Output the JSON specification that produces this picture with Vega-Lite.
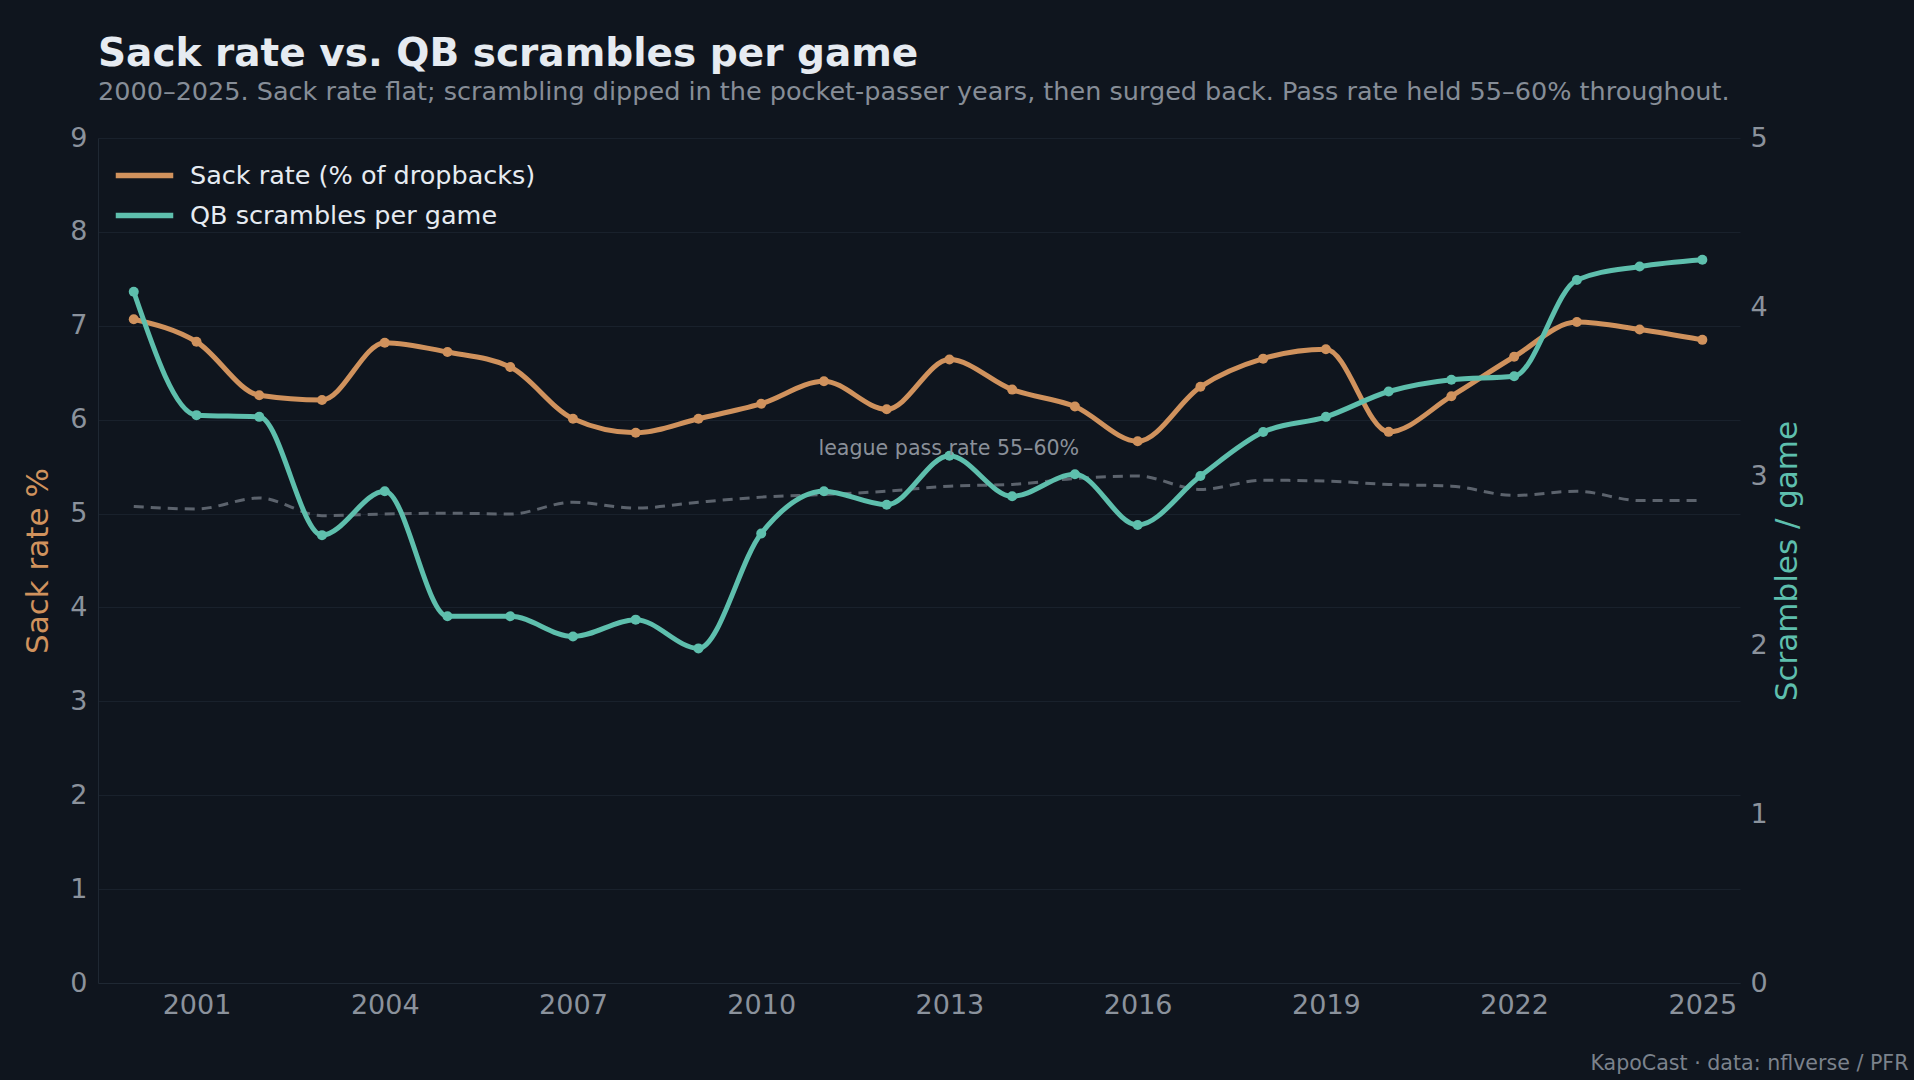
{
  "$schema": "https://vega.github.io/schema/vega-lite/v6.json",
  "width": 1642,
  "height": 845,
  "autosize": {"type": "none"},
  "padding": {"left": 98, "top": 138, "right": 174, "bottom": 97},
  "background": "#0f151e",
  "title": {
    "text": "Sack rate vs. QB scrambles per game",
    "subtitle": "2000–2025. Sack rate flat; scrambling dipped in the pocket-passer years, then surged back. Pass rate held 55–60% throughout.",
    "anchor": "start",
    "frame": "group",
    "font": "DejaVu Sans",
    "fontSize": 39,
    "fontWeight": "bold",
    "color": "#e6ebf1",
    "subtitleFont": "DejaVu Sans",
    "subtitleFontSize": 25.5,
    "subtitleColor": "#868d97",
    "subtitlePadding": 6,
    "offset": 19
  },
  "data": {
    "values": [
      {"year": 2000, "sack": 7.07, "scr": 4.09, "pass": 56.4},
      {"year": 2001, "sack": 6.83, "scr": 3.36, "pass": 56.1},
      {"year": 2002, "sack": 6.26, "scr": 3.35, "pass": 57.4},
      {"year": 2003, "sack": 6.21, "scr": 2.65, "pass": 55.3},
      {"year": 2004, "sack": 6.82, "scr": 2.91, "pass": 55.5},
      {"year": 2005, "sack": 6.72, "scr": 2.17, "pass": 55.6},
      {"year": 2006, "sack": 6.56, "scr": 2.17, "pass": 55.5},
      {"year": 2007, "sack": 6.01, "scr": 2.05, "pass": 56.9},
      {"year": 2008, "sack": 5.86, "scr": 2.15, "pass": 56.2},
      {"year": 2009, "sack": 6.01, "scr": 1.98, "pass": 56.9},
      {"year": 2010, "sack": 6.17, "scr": 2.66, "pass": 57.5},
      {"year": 2011, "sack": 6.41, "scr": 2.91, "pass": 57.8},
      {"year": 2012, "sack": 6.11, "scr": 2.83, "pass": 58.2},
      {"year": 2013, "sack": 6.64, "scr": 3.12, "pass": 58.8},
      {"year": 2014, "sack": 6.32, "scr": 2.88, "pass": 59.0},
      {"year": 2015, "sack": 6.14, "scr": 3.01, "pass": 59.7},
      {"year": 2016, "sack": 5.77, "scr": 2.71, "pass": 60.0},
      {"year": 2017, "sack": 6.35, "scr": 3.0, "pass": 58.4},
      {"year": 2018, "sack": 6.65, "scr": 3.26, "pass": 59.5},
      {"year": 2019, "sack": 6.75, "scr": 3.35, "pass": 59.4},
      {"year": 2020, "sack": 5.87, "scr": 3.5, "pass": 59.0},
      {"year": 2021, "sack": 6.25, "scr": 3.57, "pass": 58.8},
      {"year": 2022, "sack": 6.67, "scr": 3.59, "pass": 57.7},
      {"year": 2023, "sack": 7.04, "scr": 4.16, "pass": 58.2},
      {"year": 2024, "sack": 6.96, "scr": 4.24, "pass": 57.1},
      {"year": 2025, "sack": 6.85, "scr": 4.28, "pass": 57.1}
    ]
  },
  "encoding": {
    "x": {
      "field": "year",
      "type": "quantitative",
      "scale": {"domain": [1999.43, 2025.6], "nice": false, "zero": false},
      "axis": {
        "values": [2001, 2004, 2007, 2010, 2013, 2016, 2019, 2022, 2025],
        "format": "d",
        "grid": false,
        "ticks": false,
        "domain": true,
        "domainColor": "#1f2833",
        "labelFontSize": 27,
        "labelColor": "#8b929c",
        "labelPadding": 9,
        "title": "KapoCast · data: nflverse / PFR",
        "titleAnchor": null,
        "titleAlign": "right",
        "titleBaseline": "alphabetic",
        "titleX": 1810,
        "titleY": 86,
        "titleFontSize": 20.6,
        "titleFontWeight": "normal",
        "titleColor": "#7b828c"
      }
    }
  },
  "layer": [
    {
      "mark": {"type": "line", "interpolate": "monotone", "color": "#5c636d", "strokeWidth": 3, "strokeDash": [10, 7]},
      "encoding": {
        "y": {"field": "pass", "type": "quantitative", "scale": {"domain": [0, 100], "nice": false}, "axis": null}
      }
    },
    {
      "mark": {"type": "line", "interpolate": "monotone", "strokeWidth": 5},
      "encoding": {
        "y": {
          "field": "sack",
          "type": "quantitative",
          "scale": {"domain": [0, 9], "nice": false},
          "axis": {
            "orient": "left",
            "values": [0, 1, 2, 3, 4, 5, 6, 7, 8, 9],
            "grid": true,
            "gridColor": "#19212c",
            "gridWidth": 1,
            "ticks": false,
            "domain": true,
            "domainColor": "#1f2833",
            "labelFontSize": 27,
            "labelColor": "#8b929c",
            "labelPadding": 11,
            "title": "Sack rate %",
            "titleColor": "#d0925d",
            "titleFontSize": 31,
            "titleFontWeight": "normal",
            "titlePadding": 15
          }
        },
        "color": {
          "datum": "Sack rate (% of dropbacks)",
          "type": "nominal",
          "scale": {
            "domain": ["Sack rate (% of dropbacks)", "QB scrambles per game"],
            "range": ["#d0925d", "#5ebfad"]
          },
          "legend": {
            "orient": "none",
            "legendX": 32,
            "legendY": 23,
            "title": null,
            "symbolType": "M-2.5,0H2.5",
            "symbolSize": 529,
            "symbolStrokeWidth": 5.5,
            "labelFontSize": 25.5,
            "labelLimit": 0,
            "labelColor": "#e6ebf1",
            "labelOffset": 31,
            "rowPadding": 12
          }
        }
      }
    },
    {
      "mark": {"type": "point", "filled": true, "opacity": 1, "size": 100, "color": "#d0925d"},
      "encoding": {
        "y": {"field": "sack", "type": "quantitative", "scale": {"domain": [0, 9], "nice": false}, "axis": null}
      }
    },
    {
      "mark": {"type": "line", "interpolate": "monotone", "strokeWidth": 5},
      "encoding": {
        "y": {
          "field": "scr",
          "type": "quantitative",
          "scale": {"domain": [0, 5], "nice": false},
          "axis": {
            "orient": "right",
            "values": [0, 1, 2, 3, 4, 5],
            "grid": false,
            "ticks": false,
            "domain": false,
            "labelFontSize": 27,
            "labelColor": "#8b929c",
            "labelPadding": 10,
            "title": "Scrambles / game",
            "titleAngle": 270,
            "titleBaseline": "top",
            "titleColor": "#5ebfad",
            "titleFontSize": 31,
            "titleFontWeight": "normal",
            "titlePadding": 5
          }
        },
        "color": {"datum": "QB scrambles per game", "type": "nominal"}
      }
    },
    {
      "mark": {"type": "point", "filled": true, "opacity": 1, "size": 100, "color": "#5ebfad"},
      "encoding": {
        "y": {"field": "scr", "type": "quantitative", "scale": {"domain": [0, 5], "nice": false}, "axis": null}
      }
    },
    {
      "data": {"values": [{"year": 2012.99, "pos": 63.2, "label": "league pass rate 55–60%"}]},
      "mark": {"type": "text", "align": "center", "baseline": "middle", "fontSize": 20.6, "color": "#8a9099"},
      "encoding": {
        "y": {"field": "pos", "type": "quantitative", "scale": {"domain": [0, 100], "nice": false}, "axis": null},
        "text": {"field": "label"}
      }
    }
  ],
  "resolve": {"scale": {"y": "independent", "color": "shared"}, "axis": {"y": "independent"}},
  "config": {
    "font": "DejaVu Sans",
    "view": {"stroke": null},
    "axis": {"labelFont": "DejaVu Sans", "titleFont": "DejaVu Sans"},
    "legend": {"labelFont": "DejaVu Sans"}
  }
}
